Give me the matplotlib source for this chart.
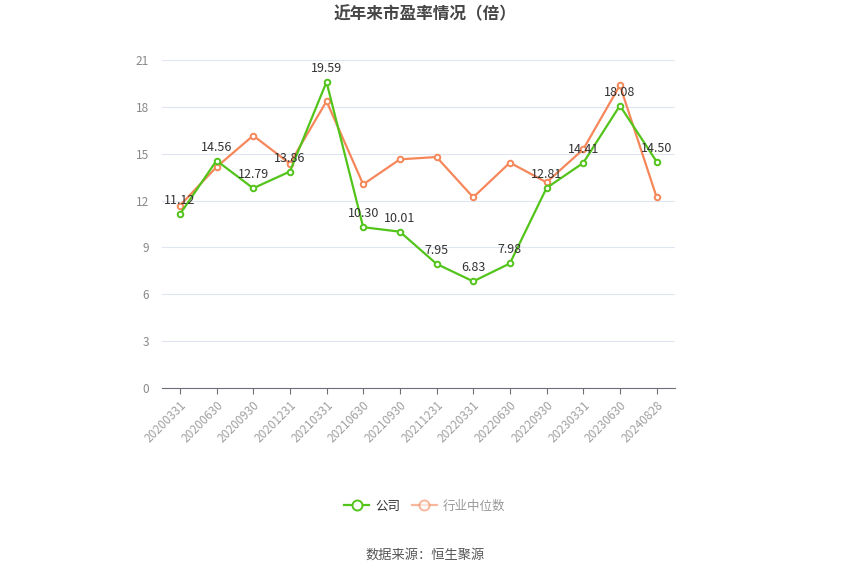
import matplotlib.pyplot as plt

plt.rcParams['font.family'] = ['Noto Sans CJK SC', 'DejaVu Sans']

# 数据
dates = ['20200331', '20200630', '20200930', '20201231', '20210331', '20210630', '20210930',
         '20211231', '20220331', '20220630', '20220930', '20230331', '20230630', '20240828']
company_pe = [11.12, 14.56, 12.79, 13.86, 19.59, 10.30, 10.01, 7.95, 6.83, 7.98, 12.81, 14.41, 18.08, 14.50]
industry_pe = [11.68, 14.15, 16.16, 14.37, 18.36, 13.04, 14.64, 14.79, 12.21, 14.43, 13.17, 15.28, 19.38, 12.23]
y_ticks = [0, 3, 6, 9, 12, 15, 18, 21]

green = '#52c41a'
orange = '#f5875a'

fig = plt.figure(figsize=(8.5, 5.75), dpi=100)
ax = fig.add_axes([0.19, 0.325, 0.604, 0.5707])

ax.plot(dates, industry_pe, color=orange, lw=1.6, marker='o', ms=4,
        mfc='white', mec=orange, mew=1.4, label='行业中位数', zorder=3)
ax.plot(dates, company_pe, color=green, lw=1.6, marker='o', ms=4,
        mfc='white', mec=green, mew=1.4, label='公司', zorder=4)

# 数据标签
for d, v in zip(dates, company_pe):
    ax.annotate(f'{v:.2f}', (d, v), xytext=(0, 5), textcoords='offset points',
                ha='center', va='bottom', fontsize=9, color='#333333', zorder=5)

ax.set_xlim(-0.5, len(dates) - 0.5)
ax.set_ylim(0, 21)
ax.set_yticks(y_ticks)
ax.grid(axis='y', color='#e0e6f1', lw=0.8)
ax.set_axisbelow(True)
for s in ['top', 'right', 'left']:
    ax.spines[s].set_visible(False)
ax.spines['bottom'].set_color('#6e7079')
ax.tick_params(axis='y', length=0, labelsize=8.5, labelcolor='#888888', pad=9)
ax.tick_params(axis='x', length=4, color='#6e7079', labelsize=8.5, labelcolor='#a0a0a0')
plt.setp(ax.get_xticklabels(), rotation=45, ha='right', rotation_mode='anchor')

fig.text(0.5, 0.975, '近年来市盈率情况（倍）', ha='center', va='center',
         fontsize=12, fontweight='bold', color='#464646')

handles, labels = ax.get_legend_handles_labels()
leg = fig.legend([handles[1], handles[0]], [labels[1], labels[0]], loc='center',
                 bbox_to_anchor=(0.5, 0.12), ncol=2, frameon=False, fontsize=9,
                 handlelength=2.0, handletextpad=0.5, columnspacing=0.9, markerscale=1.8)
leg.get_texts()[0].set_color('#333333')
leg.get_texts()[1].set_color('#999999')
leg.legend_handles[1].set_alpha(0.6)

fig.text(0.5, 0.035, '数据来源：恒生聚源', ha='center', va='center', fontsize=9.5, color='#555555')

fig.savefig('out.png', dpi=100)
